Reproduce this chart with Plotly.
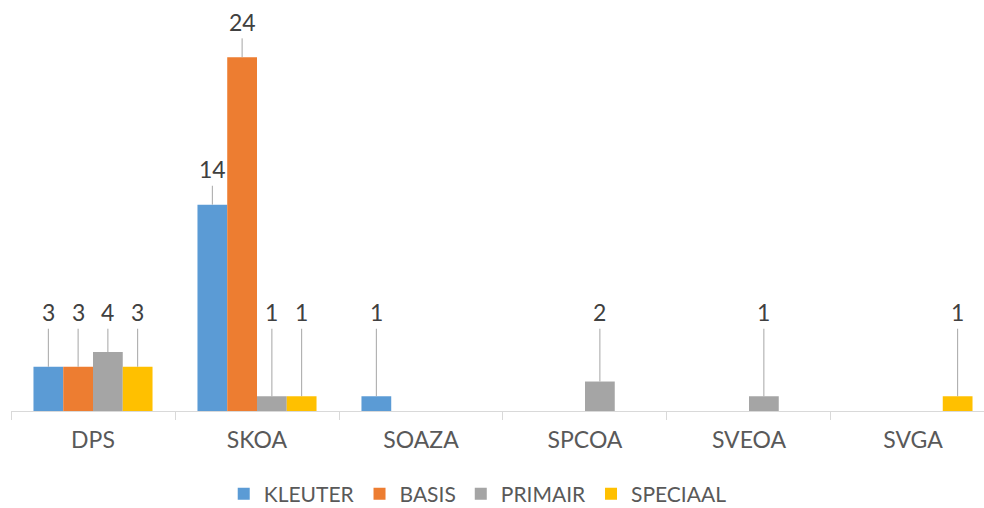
import plotly.graph_objects as go

categories = ['DPS', 'SKOA', 'SOAZA', 'SPCOA', 'SVEOA', 'SVGA']
kleuter = [3, 14, 1, 0, 0, 0]
basis = [3, 24, 0, 0, 0, 0]
primair = [4, 1, 0, 2, 1, 0]
speciaal = [3, 1, 0, 0, 0, 1]

series = [('KLEUTER', kleuter, '#5B9BD5'),
          ('BASIS', basis, '#ED7D31'),
          ('PRIMAIR', primair, '#A5A5A5'),
          ('SPECIAAL', speciaal, '#FFC000')]

FONT = 'Lato'
BARGAP = 0.274

def main():
    fig = go.Figure()
    for name, vals, color in series:
        fig.add_trace(go.Bar(x=categories, y=vals, name=name,
                             marker=dict(color=color, line_width=0)))

    # data labels with leader lines (Excel style)
    group_w = 1 - BARGAP
    bar_w = group_w / len(series)
    for i, (name, vals, color) in enumerate(series):
        offset = -group_w / 2 + (i + 0.5) * bar_w
        for j, v in enumerate(vals):
            if not v:
                continue
            fig.add_annotation(
                x=j + offset, y=v, text=str(v),
                showarrow=True, arrowhead=0, arrowwidth=1, arrowcolor='#A6A6A6',
                axref='pixel', ax=0, ayref='y', ay=max(v, 4.3) + 2.4,
                standoff=0, borderpad=2,
                font=dict(family=FONT, size=23, color='#404040'))

    fig.update_layout(
        width=984, height=508,
        margin=dict(l=11, r=0, t=13, b=97),
        paper_bgcolor='white', plot_bgcolor='white',
        barmode='group', bargap=BARGAP, bargroupgap=0,
        font=dict(family=FONT, size=23, color='#595959'),
        xaxis=dict(range=[-0.5, 5.433], showline=True, linecolor='#D9D9D9', linewidth=1,
                   ticks='outside', tickson='boundaries', ticklen=8, tickcolor='#D9D9D9',
                   ticklabelstandoff=8, showgrid=False, zeroline=False),
        yaxis=dict(range=[0, 27], visible=False, showgrid=False),
        legend=dict(orientation='h', x=472 / 984, xanchor='center',
                    yref='container', y=(508 - 494) / 508, yanchor='middle',
                    font=dict(family=FONT, size=21, color='#595959')),
        showlegend=True,
    )
    fig.write_html('out.html', config={'displayModeBar': False},
                   post_script="document.body.style.margin='0px';")

if __name__ == '__main__':
    main()
